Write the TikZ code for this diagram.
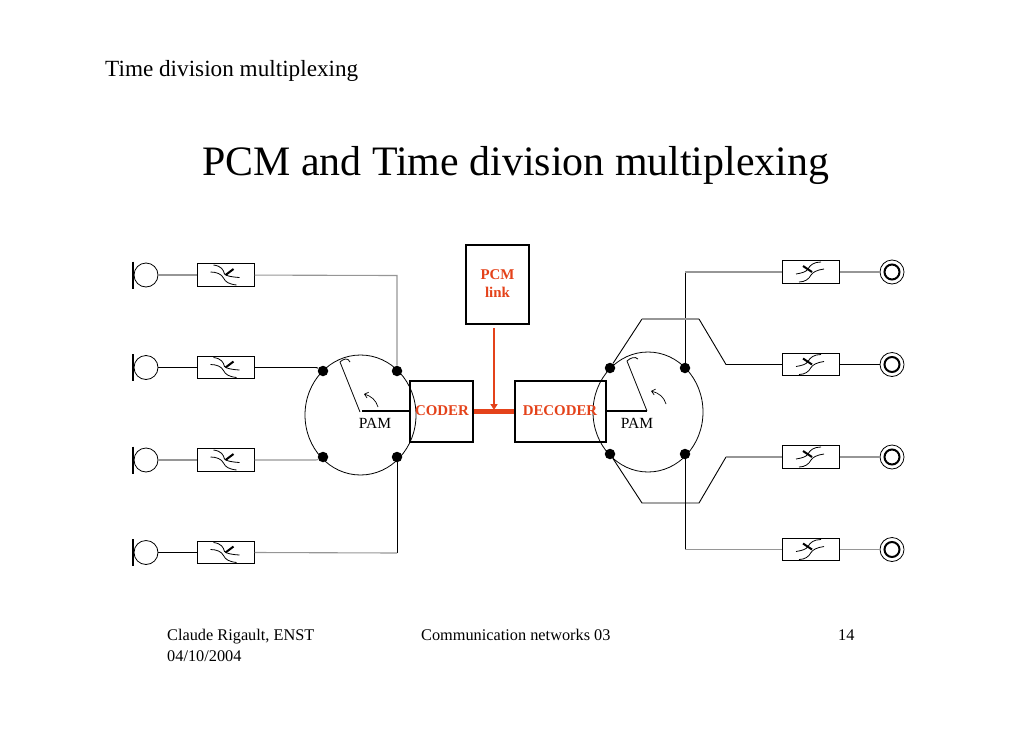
\documentclass[tikz,border=0pt]{standalone}
\usepackage{fontspec}
\setmainfont{Liberation Serif}
\usetikzlibrary{arrows.meta,calc,shapes.geometric}
\definecolor{pcmred}{RGB}{228,66,26}
\definecolor{wiregray}{RGB}{150,150,150}
\tikzset{
  wire/.style={line width=0.9pt,black},
  graywire/.style={line width=1.1pt,wiregray},
  filterbox/.style={draw,line width=1pt,minimum width=57pt,minimum height=22.5pt,inner sep=0pt},
  heavybox/.style={draw,line width=1.4pt,inner sep=0pt},
  redlabel/.style={text=pcmred,font=\fontsize{14.9}{18}\selectfont\bfseries,align=center,inner sep=0pt},
  pamlabel/.style={font=\fontsize{15.5}{18}\selectfont,inner sep=0pt},
  dotnode/.style={circle,fill=black,minimum size=10.5pt,inner sep=0pt},
  micbody/.style={circle,draw,line width=0.8pt,minimum size=24pt,inner sep=0pt},
  earbody/.style={circle,draw,line width=0.8pt,minimum size=24pt,inner sep=0pt},
  plain/.style={anchor=base west,inner sep=0pt},
  footer/.style={plain,font=\fontsize{16.3}{19}\selectfont},
  rotor/.style={line width=0.8pt},
  turn/.style={line width=0.7pt,-{Straight Barb[length=3.5pt,width=6pt]}},
  pamwheel/.style={ellipse,draw,line width=0.8pt,inner sep=0pt},
  swline/.style={line width=0.8pt},
  swbar/.style={line width=2pt},
}
\newcommand{\micswitch}[1]{%
  \begin{scope}[shift={(#1)}]
  \draw[swline] (-12,-10) .. controls (-4,-9) and (-2,-5) .. (-1,-1) .. controls (1,1) and (6,2) .. (14,2.5);
  \draw[swline] (-15,-3) .. controls (-9,-3) and (-4,-1) .. (-2,3) .. controls (0,7) and (3,9) .. (11,10);
  \draw[swbar] (0,0) -- (8,-6);
  \end{scope}}
\newcommand{\earswitch}[1]{%
  \begin{scope}[shift={(#1)}]
  \draw[swline] (-15,2) .. controls (-9,1) and (-5,0) .. (-3,-3) .. controls (-1,-7) and (3,-10) .. (10,-10);
  \draw[swline] (-12,10) .. controls (-6,10) and (-2,7) .. (0,3) .. controls (2,0) and (6,-2) .. (13,-3);
  \draw[swbar] (-8,-6) -- (1,0);
  \end{scope}}
\begin{document}
\begin{tikzpicture}[x=1pt,y=-1pt]
\useasboundingbox (0,0) rectangle (1030,728);
% texts
\node[plain,font=\fontsize{23.2}{28}\selectfont] (head) at (105,76) {Time division multiplexing};
\node[plain,font=\fontsize{41.9}{50}\selectfont] (title) at (202,175) {PCM and Time division multiplexing};
\node[footer] (f1) at (167,640.5) {Claude Rigault, ENST};
\node[footer] (f2) at (167,661.5) {04/10/2004};
\node[footer] (f3) at (421,640.5) {Communication networks 03};
\node[footer] (f4) at (838,640.5) {14};
% left side
\foreach \n/\y in {1/275,2/367.5,3/460,4/552.5}{
  \node[micbody] (m\n) at (146,\y) {};
  \draw[line width=2.2pt] (133,\y-13.5) -- (133,\y+13.5);
  \node[filterbox] (b\n) at (225.5,\y) {};
  \micswitch{b\n}
}
% right side
\foreach \n/\y in {1/272,2/364.5,3/457,4/549.5}{
  \node[earbody] (r\n) at (892,\y) {};
  \node[circle,draw,line width=2pt,minimum size=15pt,inner sep=0pt] (ri\n) at (892,\y) {};
  \node[filterbox] (c\n) at (811,\y) {};
  \earswitch{c\n}
}
% wheels
\node[pamwheel,minimum width=111pt,minimum height=120pt] (wl) at (360.5,415) {};
\node[pamwheel,minimum width=110pt,minimum height=120pt] (wr) at (648,412) {};
\node[dotnode] (la) at (323,371) {};
\node[dotnode] (lb) at (397,371) {};
\node[dotnode] (lc) at (323,457) {};
\node[dotnode] (ld) at (397,457) {};
\node[dotnode] (ra) at (610,368) {};
\node[dotnode] (rb) at (685,368) {};
\node[dotnode] (rc) at (610,454) {};
\node[dotnode] (rd) at (685,454) {};
% coder, decoder, link
\node[heavybox,minimum width=63pt,minimum height=61pt] (coder) at (441.5,411.5) {};
\node[heavybox,minimum width=91pt,minimum height=61pt] (decoder) at (560.5,411.5) {};
\node[heavybox,minimum width=63pt,minimum height=79pt] (pcm) at (497.5,284.5) {};
\node[redlabel] (tcoder) at (442,410.5) {CODER};
\node[redlabel] (tdecoder) at (560,410.5) {DECODER};
\node[redlabel] (tpcm) at (497.5,284) {PCM\\link};
\node[pamlabel] (pl) at (375,423) {PAM};
\node[pamlabel] (pr) at (637,423) {PAM};
% wires left
\draw[graywire] (m1) -- (b1);
\draw[wire] (m2) -- (b2);
\draw[graywire] (m3) -- (b3);
\draw[wire] (m4) -- (b4);
\coordinate (k1) at (397,275.5);
\coordinate (k4) at (397,553);
\draw[graywire] (b1) -- (k1) -- (lb);
\draw[wire] (b2.east) -- (312,367.5) .. controls (317,367.5) .. (la);
\draw[graywire] (b3.east) -- (312,460) .. controls (317,460) .. (lc);
\draw[wire] (ld) -- (k4);
\draw[graywire] (k4) -- (b4.east);
% wires right
\coordinate (u1) at (685,272);
\coordinate (u2) at (642,319);
\coordinate (u3) at (699,319);
\coordinate (u4) at (726,364.5);
\coordinate (d2) at (642,503);
\coordinate (d3) at (699,503);
\coordinate (d4) at (726,457);
\coordinate (e1) at (685,549.5);
\draw[wire] (rb) -- (u1);
\draw[graywire] (u1) -- (c1);
\draw[wire] (ra) -- (u2);
\draw[graywire] (u2) -- (u3);
\draw[wire] (u3) -- (u4) -- (c2);
\draw[wire] (rc) -- (d2) -- (d3) -- (d4);
\draw[graywire] (d4) -- (c3);
\draw[wire] (rd) -- (e1);
\draw[graywire] (e1) -- (c4);
\draw[graywire] (c1) -- (r1);
\draw[wire] (c2) -- (r2);
\draw[graywire] (c3) -- (r3);
\draw[graywire] (c4) -- (r4);
% rotors
\coordinate (lh) at (360,412);
\coordinate (rh) at (647,411);
\draw[rotor] (lh) -- (340,362) .. controls (343,359) and (348,357) .. (350,362);
\draw[rotor] (rh) -- (627,361) .. controls (630,358) and (635,356) .. (638,359);
\draw[line width=1.4pt] (362,411) -- (coder.west |- 362,411);
\draw[line width=1.4pt] (decoder.east |- rh) -- (rh);
\draw[turn] (378,407) .. controls (376,400) and (371,396) .. (364,394);
\draw[turn] (666,404) .. controls (664,397) and (659,393) .. (651,391);
% PCM link
\draw[line width=5pt,pcmred] (coder.east |- 0,411) -- (decoder.west |- 0,411);
\coordinate (a0) at (494,328);
\coordinate (a1) at (494,410);
\draw[line width=1.5pt,pcmred,-{Triangle[length=6pt,width=7pt]}] (a0) -- (a1);
\end{tikzpicture}
\end{document}
